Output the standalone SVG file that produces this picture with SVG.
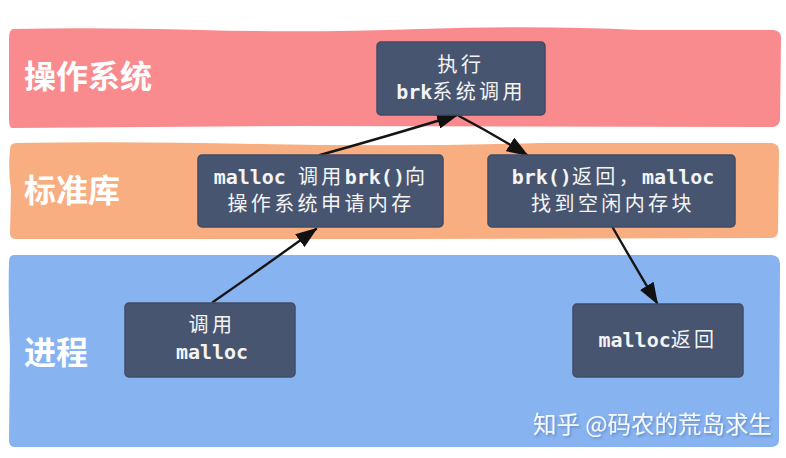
<svg xmlns="http://www.w3.org/2000/svg" width="786" height="458" viewBox="0 0 786 458">
<defs>
<style>
.band-label{font-family:"Noto Sans CJK SC","Noto Sans",sans-serif;font-weight:700;font-size:32px;fill:#ffffff}
.node-box{fill:#475570;stroke:#3f4c64;stroke-width:1.5}
.node-text{font-family:"DejaVu Sans Mono","Noto Sans CJK SC",monospace;font-weight:700;font-size:20px;fill:#f4f4f4;text-anchor:middle}
.cjk{letter-spacing:3.4px;font-weight:400}
.conn{fill:none;stroke:#151515;stroke-width:2.4;stroke-linecap:round}
.wm{font-family:"Noto Sans CJK SC","Noto Sans",sans-serif;font-size:23.5px;fill:#ffffff;fill-opacity:0.92}
</style>
<filter id="wmShadow" x="-5%" y="-20%" width="110%" height="150%">
<feDropShadow dx="1.5" dy="1.5" stdDeviation="0.8" flood-color="#4a6a9e" flood-opacity="0.6"/>
</filter>
<marker id="arrow" viewBox="0 0 22 16" refX="20" refY="8" markerWidth="22" markerHeight="16" markerUnits="userSpaceOnUse" orient="auto">
<path d="M0,0 L22,8 L0,16 z" fill="#111111"/>
</marker>
</defs>
<rect width="786" height="458" fill="#ffffff"/>

<g id="band-os">
<path d="M14,29 Q96,27 200,30 T420,29 T640,30 L774,30 Q781,31 781,38 L780,120 Q779,127 772,127 L300,126 L12,128 Q9,127 9,120 L9,38 Q9,29 14,29 Z" fill="#f98b8f"/>
<text class="band-label" x="24" y="88">操作系统</text>
</g>
<g id="band-lib">
<path d="M16,143 Q120,141 260,144 T540,143 L772,143 Q779,144 779,151 L778,231 Q778,238 771,238 L400,239 L16,239 Q10,239 10,233 L11,190 Q8,170 10,150 Q10,143 16,143 Z" fill="#f8ae80"/>
<text class="band-label" x="24" y="202">标准库</text>
</g>
<g id="band-proc">
<path d="M14,255 L772,255 Q780,256 780,264 L779,440 Q779,447 771,447 L14,447 Q9,447 9,440 L10,350 Q8,300 9,262 Q9,255 14,255 Z" fill="#87b3f1"/>
<text class="band-label" x="24" y="364">进程</text>
</g>

<g id="connectors">
<path class="conn" d="M213,302 Q262,268 316,229" marker-end="url(#arrow)"/>
<path class="conn" d="M320,155 Q385,137 457,115" marker-end="url(#arrow)"/>
<path class="conn" d="M459,116 Q495,135 527,155" marker-end="url(#arrow)"/>
<path class="conn" d="M613,228 Q636,268 657,303" marker-end="url(#arrow)"/>
</g>

<g id="node-exec">
<rect class="node-box" x="377" y="42" width="168" height="73" rx="4"/>
<text class="node-text" x="461" y="72"><tspan class="cjk">执行</tspan></text>
<text class="node-text" x="461" y="99">brk<tspan class="cjk">系统调用</tspan></text>
</g>
<g id="node-malloc-call-brk">
<rect class="node-box" x="198" y="155" width="245" height="72" rx="4"/>
<text class="node-text" x="321" y="184">malloc <tspan class="cjk">调用</tspan>brk()<tspan class="cjk">向</tspan></text>
<text class="node-text" x="321" y="211"><tspan class="cjk">操作系统申请内存</tspan></text>
</g>
<g id="node-brk-return">
<rect class="node-box" x="488" y="155" width="247" height="72" rx="4"/>
<text class="node-text" x="613" y="184">brk()<tspan class="cjk">返回，</tspan>malloc</text>
<text class="node-text" x="613" y="211"><tspan class="cjk">找到空闲内存块</tspan></text>
</g>
<g id="node-call-malloc">
<rect class="node-box" x="125" y="303" width="170" height="74" rx="4"/>
<text class="node-text" x="212" y="332"><tspan class="cjk">调用</tspan></text>
<text class="node-text" x="212" y="359">malloc</text>
</g>
<g id="node-malloc-return">
<rect class="node-box" x="573" y="304" width="170" height="73" rx="4"/>
<text class="node-text" x="658" y="347">malloc<tspan class="cjk">返回</tspan></text>
</g>

<text class="wm" x="533" y="433" filter="url(#wmShadow)">知乎 @码农的荒岛求生</text>
</svg>
